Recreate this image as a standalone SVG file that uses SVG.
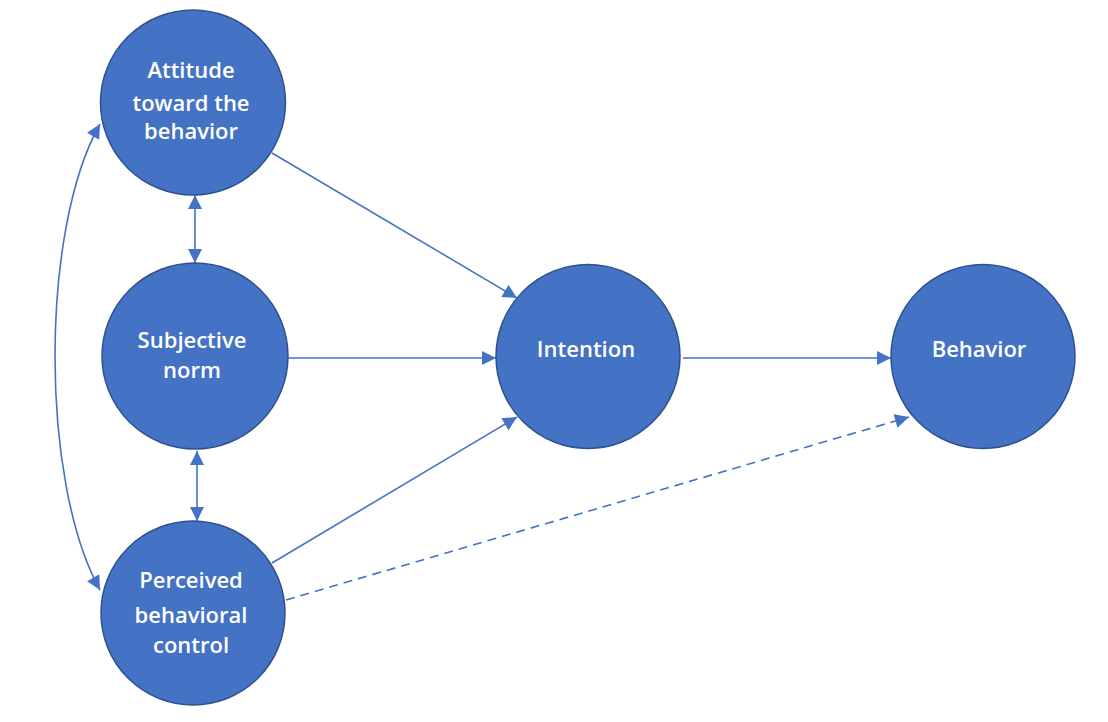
<svg xmlns="http://www.w3.org/2000/svg" width="1108" height="722" viewBox="0 0 1108 722">
<style>
.node{fill:#4472C4;stroke:#2F528F;stroke-width:1.5}
.lbl{fill:#fff;font-family:"Open Sans","Liberation Sans",sans-serif;font-size:22px;font-weight:600;text-anchor:middle}
.edge{fill:none;stroke:#4472C4;stroke-width:1.6}
.dash{stroke-dasharray:9 6}
</style>
<defs>
<marker id="ahb" viewBox="0 0 10 10" refX="10" refY="5" markerWidth="16" markerHeight="14" markerUnits="userSpaceOnUse" orient="auto-start-reverse">
<path d="M0,0 L10,5 L0,10 z" fill="#4472C4"/>
</marker>
</defs>
<rect width="1108" height="722" fill="#fff"/>
<g id="connectors">
<line class="edge" x1="272" y1="153" x2="517" y2="298" marker-end="url(#ahb)"/>
<line class="edge" x1="288" y1="358" x2="496" y2="358" marker-end="url(#ahb)"/>
<line class="edge" x1="272" y1="563" x2="517" y2="417" marker-end="url(#ahb)"/>
<line class="edge" x1="683" y1="358" x2="891" y2="358" marker-end="url(#ahb)"/>
<line class="edge dash" x1="286" y1="600" x2="909" y2="417" marker-end="url(#ahb)"/>
<line class="edge" x1="195" y1="195" x2="195" y2="263" marker-start="url(#ahb)" marker-end="url(#ahb)"/>
<line class="edge" x1="197" y1="451" x2="197" y2="521" marker-start="url(#ahb)" marker-end="url(#ahb)"/>
<path class="edge" d="M100,124 C40,230 40,482 100,590" marker-start="url(#ahb)" marker-end="url(#ahb)"/>
</g>
<g id="attitude">
<circle class="node" cx="193" cy="102.5" r="92.5"/>
<text class="lbl" x="191" y="78">Attitude</text>
<text class="lbl" x="191" y="111">toward the</text>
<text class="lbl" x="191" y="139">behavior</text>
</g>
<g id="subjective-norm">
<circle class="node" cx="195" cy="356" r="93"/>
<text class="lbl" x="192" y="348">Subjective</text>
<text class="lbl" x="192" y="378">norm</text>
</g>
<g id="perceived">
<circle class="node" cx="193" cy="613" r="92"/>
<text class="lbl" x="191" y="588">Perceived</text>
<text class="lbl" x="191" y="623">behavioral</text>
<text class="lbl" x="191" y="653">control</text>
</g>
<g id="intention">
<circle class="node" cx="588" cy="356.5" r="92"/>
<text class="lbl" x="586" y="357">Intention</text>
</g>
<g id="behavior">
<circle class="node" cx="983" cy="356.5" r="92"/>
<text class="lbl" x="979" y="357">Behavior</text>
</g>
</svg>
